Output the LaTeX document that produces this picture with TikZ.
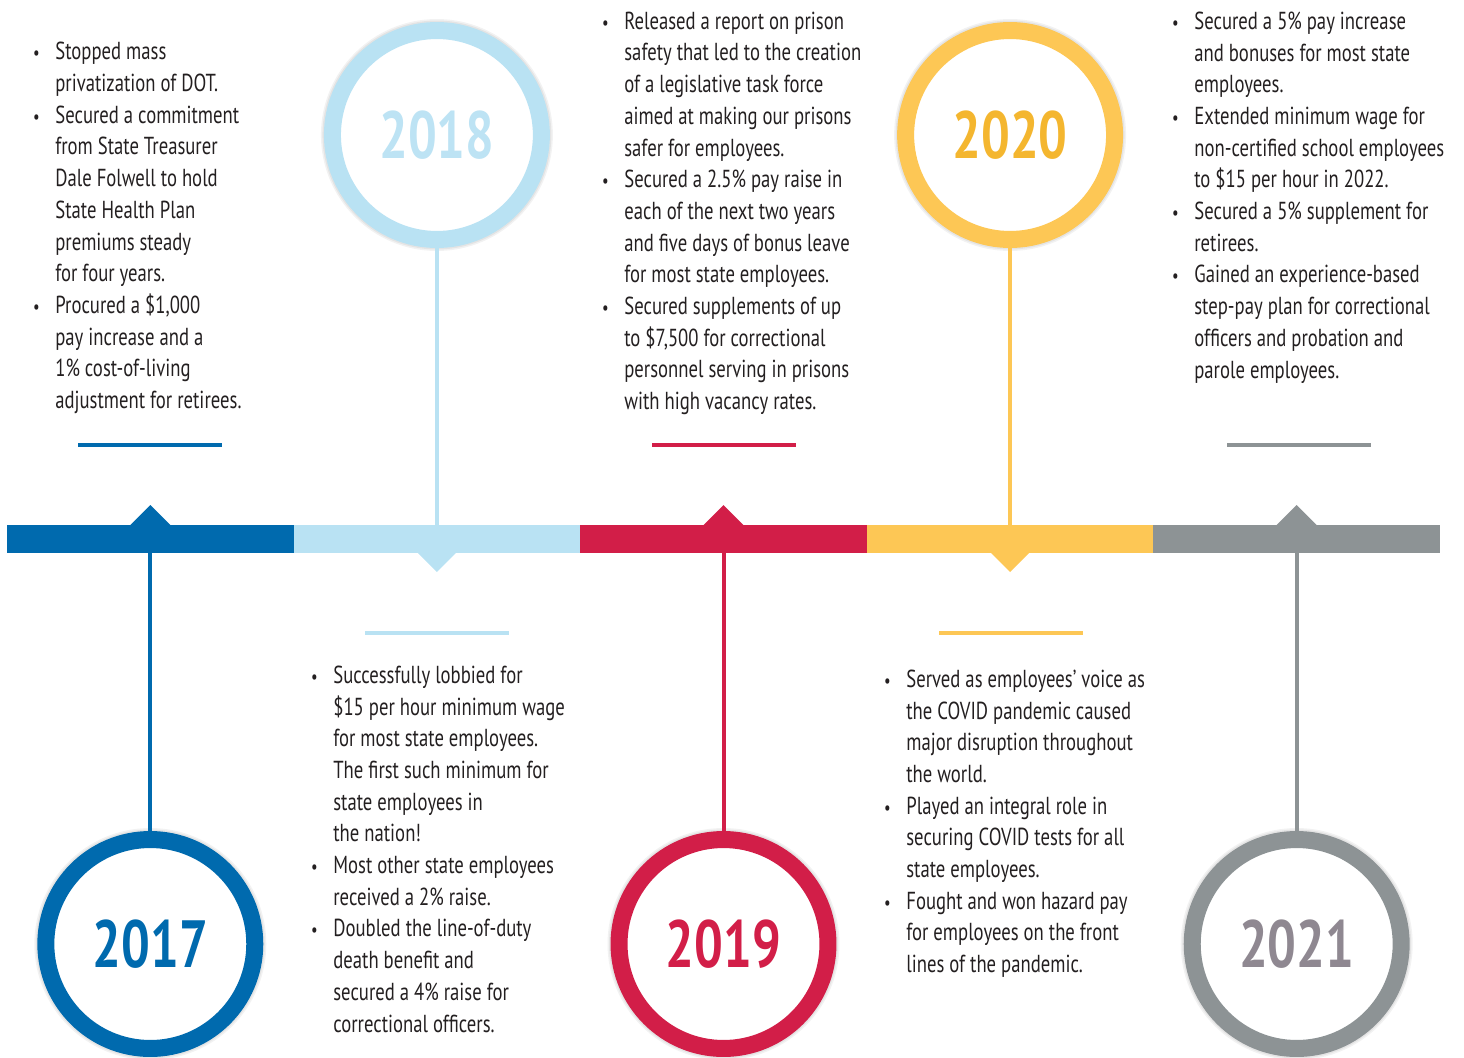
\documentclass[tikz,border=0pt]{standalone}
\usepackage{fontspec}
\setmainfont{PT Sans}[FakeStretch=0.76]
\usepackage{tikz}
\usetikzlibrary{positioning}
\usepackage{xcolor}
\definecolor{tlBlue}{HTML}{006AAE}
\definecolor{tlSky}{HTML}{B9E2F3}
\definecolor{tlRed}{HTML}{D21E48}
\definecolor{tlGold}{HTML}{FDC755}
\definecolor{tlGrey}{HTML}{8D9395}
\definecolor{tlInk}{HTML}{231F20}
\definecolor{skyText}{HTML}{BDE3F4}
\definecolor{goldText}{HTML}{F4B62F}
\definecolor{greyText}{HTML}{8F8891}
\tikzset{
    segment/.style={
        rectangle,
        fill=#1,
        inner sep=0pt,
        outer sep=0pt,
        minimum width=5.732cm,
        minimum height=0.56cm
    },
    yearring/.style={
        draw=#1,
        circle,
        fill=white,
        line width=0.34cm,
        minimum size=4.18cm,
        inner sep=0pt,
        preaction={draw=black, draw opacity=0.05, line width=0.46cm},
        preaction={draw=black, draw opacity=0.06, line width=0.40cm},
        font=\fontsize{38}{38}\selectfont\bfseries
    },
    stem/.style={
        draw=#1,
        line width=0.08cm
    },
    dashline/.style={
        draw=#1,
        line width=0.08cm
    },
    note/.style={
        anchor=north west,
        inner sep=0pt,
        align=left,
        text=tlInk,
        font=\fontsize{14}{18.04}\selectfont,
        execute at begin node=\strut
    }
}
\newcommand{\bul}{\llap{{\fontsize{11}{11}\selectfont\textbullet}\hspace{0.31cm}}}

\begin{document}
\begin{tikzpicture}[x=0.02cm, y=-0.02cm]
    \useasboundingbox (0,0) rectangle (1464,1058);

    % the bar
    \node[segment=tlBlue] (s17) at (150.3,539) {};
    \node[segment=tlSky] (s18) at (436.9,539) {};
    \node[segment=tlRed] (s19) at (723.5,539) {};
    \node[segment=tlGold] (s20) at (1010.1,539) {};
    \node[segment=tlGrey] (s21) at (1296.7,539) {};

    \fill[tlBlue] (s17.north) ++(-20,0) -- ++(20,-20) -- ++(20,20) -- cycle;
    \fill[tlSky] (s18.south) ++(-19,0) -- ++(19,19) -- ++(19,-19) -- cycle;
    \fill[tlRed] (s19.north) ++(-20,0) -- ++(20,-20) -- ++(20,20) -- cycle;
    \fill[tlGold] (s20.south) ++(-19,0) -- ++(19,19) -- ++(19,-19) -- cycle;
    \fill[tlGrey] (s21.north) ++(-20,0) -- ++(20,-20) -- ++(20,20) -- cycle;

    % years
    \node[yearring=tlBlue, text=tlBlue] (y17) at (150.3,944) {2017};
    \node[yearring=tlSky, text=skyText] (y18) at (436.9,135) {2018};
    \node[yearring=tlRed, text=tlRed] (y19) at (723.5,944) {2019};
    \node[yearring=tlGold, text=goldText] (y20) at (1010.1,135) {2020};
    \node[yearring=tlGrey, text=greyText] (y21) at (1296.7,944) {2021};

    \draw[stem=tlBlue] (s17.south) -- (y17.north);
    \draw[stem=tlSky] (y18.south) -- (s18.north);
    \draw[stem=tlRed] (s19.south) -- (y19.north);
    \draw[stem=tlGold] (y20.south) -- (s20.north);
    \draw[stem=tlGrey] (s21.south) -- (y21.north);

    \draw[dashline=tlBlue] (78,445) -- (222,445);
    \draw[dashline=tlSky] (365,633) -- (509,633);
    \draw[dashline=tlRed] (652,445) -- (796,445);
    \draw[dashline=tlGold] (939,633) -- (1083,633);
    \draw[dashline=tlGrey] (1227,445) -- (1371,445);

    % notes
    \node[note] (t17) at (55,42) {\bul Stopped mass\\
        privatization of DOT.\\
        \bul Secured a commitment\\
        from State Treasurer\\
        Dale Folwell to hold\\
        State Health Plan\\
        premiums steady\\
        for four years.\\
        \bul Procured a \$1,000\\
        pay increase and a\\
        1\% cost-of-living\\
        adjustment for retirees.};
    \node[note] (t18) at (333,665.5) {\bul Successfully lobbied for\\
        \$15 per hour minimum wage\\
        for most state employees.\\
        The first such minimum for\\
        state employees in\\
        the nation!\\
        \bul Most other state employees\\
        received a 2\% raise.\\
        \bul Doubled the line-of-duty\\
        death benefit and\\
        secured a 4\% raise for\\
        correctional officers.};
    \node[note] (t19) at (624,11.5) {\bul Released a report on prison\\
        safety that led to the creation\\
        of a legislative task force\\
        aimed at making our prisons\\
        safer for employees.\\
        \bul Secured a 2.5\% pay raise in\\
        each of the next two years\\
        and five days of bonus leave\\
        for most state employees.\\
        \bul Secured supplements of up\\
        to \$7,500 for correctional\\
        personnel serving in prisons\\
        with high vacancy rates.};
    \node[note] (t20) at (906,669.5) {\bul Served as employees’ voice as\\
        the COVID pandemic caused\\
        major disruption throughout\\
        the world.\\
        \bul Played an integral role in\\
        securing COVID tests for all\\
        state employees.\\
        \bul Fought and won hazard pay\\
        for employees on the front\\
        lines of the pandemic.};
    \node[note] (t21) at (1194,11.5) {\bul Secured a 5\% pay increase\\
        and bonuses for most state\\
        employees.\\
        \bul Extended minimum wage for\\
        non-certified school employees\\
        to \$15 per hour in 2022.\\
        \bul Secured a 5\% supplement for\\
        retirees.\\
        \bul Gained an experience-based\\
        step-pay plan for correctional\\
        officers and probation and\\
        parole employees.};
\end{tikzpicture}
\end{document}
